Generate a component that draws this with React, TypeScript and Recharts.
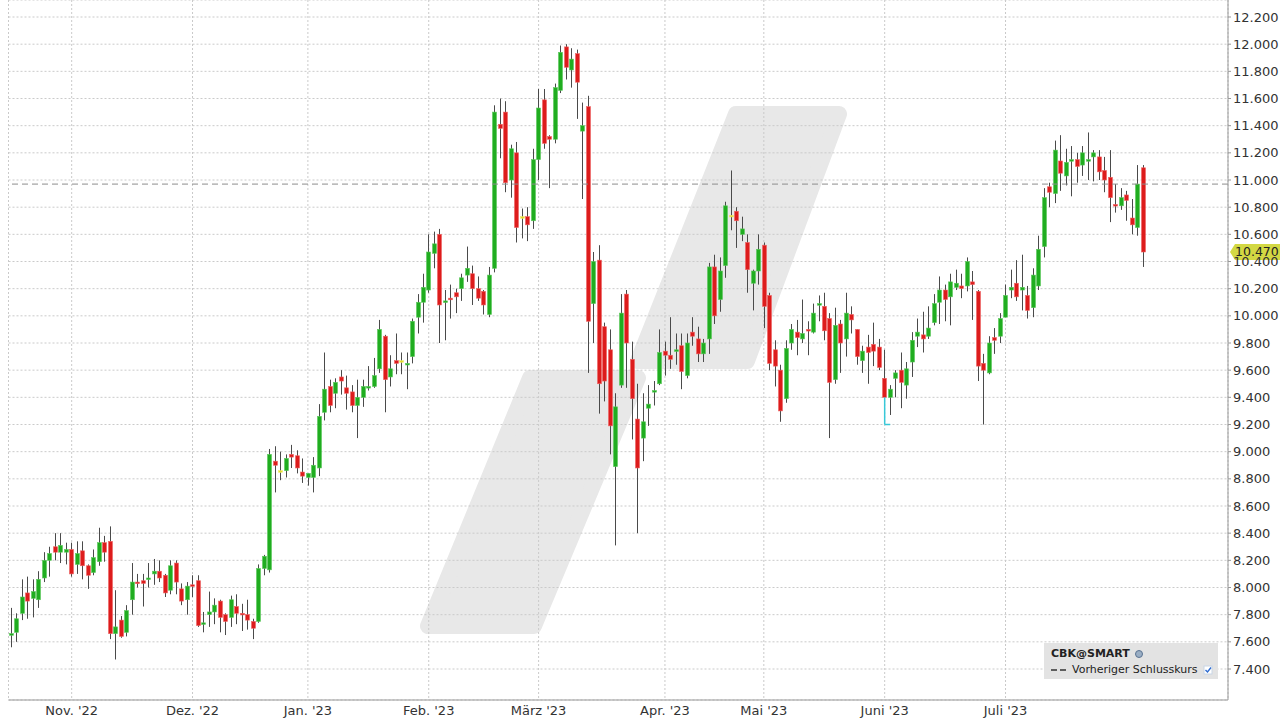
import React from 'react';
import { ComposedChart, Bar, XAxis, YAxis, CartesianGrid, ReferenceLine, Legend } from 'recharts';

// CBK@SMART daily candles, 17.10.2022 - 07.08.2023
const opens = [
  7.65, 7.67, 7.81, 7.96, 7.92, 7.91, 8.07, 8.20, 8.30, 8.26,
  8.26, 8.28, 8.17, 8.27, 8.16, 8.11, 8.19, 8.33, 8.34, 7.66,
  7.76, 7.67, 7.91, 8.04, 8.05, 8.06, 8.10, 8.12, 8.09, 7.98,
  8.18, 7.99, 7.91, 8.02, 8.05, 7.73, 7.80, 7.82, 7.90, 7.80,
  7.78, 7.86, 7.81, 7.80, 7.75, 7.75, 8.14, 8.13, 8.93, 8.86,
  8.86, 8.98, 8.97, 8.85, 8.81, 8.81, 8.88, 9.29, 9.48, 9.43,
  9.55, 9.47, 9.44, 9.34, 9.40, 9.47, 9.48, 9.61, 9.85, 9.55,
  9.67, 9.67, 9.64, 9.70, 9.99, 10.10, 10.19, 10.46, 10.60, 10.10,
  10.13, 10.17, 10.20, 10.30, 10.31, 10.20, 10.18, 10.01, 10.35, 11.41,
  11.50, 11.00, 11.20, 10.73, 10.73, 10.70, 11.15, 11.59, 11.32, 11.30,
  11.66, 11.98, 11.81, 11.93, 11.36, 11.54, 10.09, 10.41, 9.92, 9.75,
  8.89, 9.49, 10.16, 9.68, 9.24, 9.10, 9.32, 9.44, 9.50, 9.74,
  9.71, 9.74, 9.78, 9.56, 9.88, 9.83, 9.72, 9.83, 10.36, 10.12,
  10.37, 10.74, 10.77, 10.60, 10.54, 10.24, 10.33, 10.52, 10.15, 9.75,
  9.60, 9.39, 9.80, 9.88, 9.83, 9.90, 9.88, 10.08, 10.07, 9.98,
  9.53, 9.94, 9.83, 10.01, 9.90, 9.67, 9.77, 9.79, 9.77, 9.54,
  9.40, 9.54, 9.60, 9.49, 9.66, 9.85, 9.86, 9.85, 9.95, 10.10,
  10.19, 10.14, 10.21, 10.22, 10.22, 10.25, 10.18, 9.65, 9.58, 9.84,
  9.85, 9.99, 10.19, 10.24, 10.19, 10.15, 10.06, 10.22, 10.51, 10.95,
  10.90, 11.14, 11.03, 11.14, 11.15, 11.11, 11.14, 11.17, 11.17, 11.07,
  11.02, 10.82, 10.81, 10.89, 10.72, 10.65, 11.09,
];
const highs = [
  7.85, 7.81, 8.06, 8.08, 8.06, 8.12, 8.26, 8.30, 8.40, 8.40,
  8.33, 8.33, 8.34, 8.34, 8.17, 8.28, 8.44, 8.38, 8.45, 7.98,
  7.79, 7.87, 8.18, 8.10, 8.10, 8.18, 8.21, 8.20, 8.10, 8.20,
  8.20, 8.03, 8.04, 8.09, 8.09, 7.82, 7.97, 7.92, 7.91, 7.81,
  7.94, 7.95, 7.88, 7.91, 7.77, 8.17, 8.24, 9.02, 9.04, 9.00,
  8.98, 9.05, 9.01, 8.95, 8.84, 8.96, 9.35, 9.73, 9.53, 9.54,
  9.60, 9.56, 9.49, 9.53, 9.53, 9.63, 9.69, 9.97, 9.86, 9.71,
  9.87, 9.73, 9.73, 9.98, 10.16, 10.31, 10.60, 10.62, 10.64, 10.19,
  10.23, 10.20, 10.31, 10.51, 10.37, 10.29, 10.19, 10.36, 11.55, 11.60,
  11.58, 11.26, 11.28, 10.79, 10.80, 11.23, 11.67, 11.67, 11.33, 11.71,
  11.99, 12.00, 11.97, 11.96, 11.57, 11.62, 10.47, 10.52, 9.95, 9.90,
  9.43, 10.16, 10.19, 9.81, 9.50, 9.43, 9.49, 9.52, 9.90, 9.81,
  9.99, 9.87, 9.87, 9.87, 9.99, 9.92, 9.83, 10.39, 10.45, 10.43,
  10.84, 11.07, 10.80, 10.73, 10.60, 10.34, 10.60, 10.54, 10.17, 9.82,
  9.64, 9.82, 9.94, 9.97, 10.12, 9.96, 10.09, 10.15, 10.17, 10.02,
  10.06, 9.97, 10.17, 10.07, 9.90, 9.78, 9.86, 9.95, 9.83, 9.75,
  9.49, 9.60, 9.73, 9.66, 9.88, 9.98, 10.03, 10.07, 10.16, 10.29,
  10.23, 10.31, 10.34, 10.31, 10.43, 10.33, 10.19, 9.72, 9.85, 9.91,
  10.02, 10.23, 10.34, 10.41, 10.45, 10.22, 10.35, 10.59, 10.94, 10.98,
  11.29, 11.33, 11.23, 11.25, 11.20, 11.25, 11.35, 11.22, 11.22, 11.17,
  11.22, 10.97, 10.94, 10.92, 10.86, 11.11, 11.11,
];
const lows = [
  7.56, 7.60, 7.76, 7.77, 7.78, 7.85, 8.04, 8.08, 8.20, 8.18,
  8.17, 8.08, 8.10, 8.06, 7.99, 8.09, 8.16, 8.19, 7.62, 7.47,
  7.63, 7.64, 7.80, 8.00, 7.86, 8.00, 8.02, 8.04, 7.93, 7.95,
  7.95, 7.87, 7.80, 7.93, 7.71, 7.67, 7.71, 7.73, 7.67, 7.65,
  7.71, 7.73, 7.68, 7.69, 7.62, 7.74, 8.09, 8.11, 8.70, 8.79,
  8.81, 8.88, 8.84, 8.77, 8.75, 8.70, 8.82, 9.23, 9.29, 9.32,
  9.42, 9.31, 9.29, 9.10, 9.33, 9.45, 9.47, 9.58, 9.29, 9.48,
  9.57, 9.57, 9.46, 9.65, 9.87, 9.95, 10.17, 10.35, 9.80, 9.82,
  9.98, 10.02, 10.11, 10.25, 10.08, 10.11, 10.01, 9.99, 10.32, 11.16,
  10.91, 10.87, 10.54, 10.57, 10.55, 10.64, 11.00, 11.23, 10.94, 11.27,
  11.64, 11.74, 11.68, 11.45, 10.86, 9.58, 9.80, 9.28, 9.37, 8.98,
  8.31, 9.47, 9.47, 9.09, 8.40, 8.93, 9.19, 9.34, 9.49, 9.56,
  9.61, 9.64, 9.46, 9.54, 9.78, 9.66, 9.66, 9.72, 9.94, 10.03,
  10.28, 10.63, 10.50, 10.55, 10.17, 10.04, 10.23, 9.91, 9.60, 9.48,
  9.22, 9.36, 9.75, 9.71, 9.80, 9.71, 9.87, 9.96, 9.82, 9.10,
  9.50, 9.58, 9.70, 9.87, 9.64, 9.58, 9.50, 9.63, 9.60, 9.40,
  9.27, 9.40, 9.32, 9.39, 9.55, 9.77, 9.73, 9.83, 9.93, 9.94,
  9.96, 9.93, 10.19, 10.13, 10.18, 9.97, 9.52, 9.20, 9.57, 9.72,
  9.80, 9.99, 10.13, 10.11, 10.04, 9.98, 9.99, 10.19, 10.43, 10.80,
  10.83, 10.92, 10.96, 10.88, 10.98, 11.03, 11.00, 10.99, 11.00, 10.91,
  10.69, 10.76, 10.78, 10.70, 10.60, 10.59, 10.36,
];
const closes = [
  7.66, 7.77, 7.93, 7.90, 7.97, 8.06, 8.20, 8.25, 8.26, 8.31,
  8.28, 8.10, 8.25, 8.16, 8.09, 8.22, 8.33, 8.26, 7.66, 7.71,
  7.64, 7.83, 8.04, 8.03, 8.03, 8.07, 8.12, 8.07, 7.96, 8.16,
  8.04, 7.90, 8.01, 8.01, 7.72, 7.74, 7.82, 7.87, 7.78, 7.75,
  7.91, 7.81, 7.80, 7.76, 7.70, 8.14, 8.23, 8.98, 8.90, 8.86,
  8.95, 8.96, 8.88, 8.82, 8.84, 8.90, 9.26, 9.46, 9.34, 9.51,
  9.52, 9.43, 9.34, 9.40, 9.48, 9.48, 9.56, 9.90, 9.53, 9.61,
  9.65, 9.67, 9.65, 9.96, 10.10, 10.21, 10.47, 10.53, 10.08, 10.11,
  10.12, 10.14, 10.28, 10.35, 10.20, 10.13, 10.08, 10.30, 11.50, 11.38,
  10.98, 11.23, 10.65, 10.73, 10.67, 11.15, 11.53, 11.27, 11.30, 11.68,
  11.94, 11.83, 11.89, 11.72, 11.40, 9.96, 10.40, 9.50, 9.52, 9.19,
  9.33, 10.02, 9.80, 9.39, 8.88, 9.22, 9.35, 9.45, 9.73, 9.71,
  9.68, 9.75, 9.59, 9.80, 9.85, 9.72, 9.80, 10.36, 10.00, 10.33,
  10.81, 10.74, 10.70, 10.64, 10.34, 10.33, 10.49, 10.07, 9.65, 9.63,
  9.30, 9.76, 9.90, 9.84, 9.87, 9.89, 10.02, 10.09, 9.89, 9.51,
  9.93, 9.80, 10.02, 9.97, 9.70, 9.74, 9.73, 9.74, 9.62, 9.40,
  9.46, 9.58, 9.51, 9.61, 9.82, 9.88, 9.83, 9.91, 10.09, 10.19,
  10.12, 10.25, 10.24, 10.20, 10.40, 10.23, 9.63, 9.60, 9.80, 9.82,
  9.98, 10.15, 10.21, 10.14, 10.21, 10.04, 10.30, 10.49, 10.87, 10.91,
  11.22, 11.05, 11.13, 11.15, 11.10, 11.20, 11.15, 11.20, 11.06, 11.00,
  10.87, 10.81, 10.87, 10.85, 10.67, 10.97, 10.47,
];

const monthTickIdx = [11, 33, 54, 76, 96, 119, 137, 159, 181];
const monthLabels = ["Nov. '22", "Dez. '22", "Jan. '23", "Feb. '23", "März '23", "Apr. '23", "Mai '23", "Juni '23", "Juli '23"];
const priceTicks = [7.4, 7.6, 7.8, 8.0, 8.2, 8.4, 8.6, 8.8, 9.0, 9.2, 9.4, 9.6, 9.8, 10.0, 10.2, 10.4, 10.6, 10.8, 11.0, 11.2, 11.4, 11.6, 11.8, 12.0, 12.2];

const symbolName = 'CBK@SMART';
const prevCloseLabel = 'Vorheriger Schlusskurs';
const prevClose = 10.97;
const lastPrice = 10.47;
const dividendIdx = 159;
const dividendRange = [9.4, 9.2];
const slotCount = 222; // trading-day slots on the axis, the rest stays empty

const FONT = '"DejaVu Sans", Verdana, sans-serif';

const data = Array.from({ length: slotCount }, (_, i) =>
  i < opens.length
    ? { i, o: opens[i], h: highs[i], l: lows[i], c: closes[i], range: [lows[i], highs[i]] }
    : { i, range: null }
);

function Candle(props: any) {
  const { x, y, width, height, payload } = props;
  if (!payload || payload.o == null) return <g />;
  const { o, h, l, c } = payload;
  const top = Math.min(y, y + height);
  const bottom = Math.max(y, y + height);
  const ppu = (bottom - top) / (h - l);
  const yOf = (v: number) => top + (h - v) * ppu;
  const cx = Math.round(x + width / 2) + 0.5;
  const bTop = yOf(Math.max(o, c));
  const bBot = yOf(Math.min(o, c));
  const fill = c === o ? '#e6dd2a' : c > o ? '#20ad20' : '#dd1c1c';
  const edge = c === o ? '#f2ec70' : c > o ? '#5cc95c' : '#ee6464';
  return (
    <g>
      <line x1={cx} x2={cx} y1={top} y2={bottom} stroke="#4a4a4a" strokeWidth={1} />
      <rect x={cx - 2} y={bTop} width={4} height={Math.max(bBot - bTop, 1.6)} fill={fill} stroke={edge} strokeWidth={0.6} />
    </g>
  );
}

// yellow last-price tag sitting on the right axis (covers part of the 10.400 label, as in the original)
function PriceTag(props: any) {
  const { viewBox } = props;
  if (!viewBox) return null;
  const x = viewBox.x + viewBox.width;
  const y = viewBox.y;
  return (
    <g>
      <path d={`M${x + 2},${y} L${x + 7},${y - 8} H${x + 52} V${y + 8} H${x + 7} Z`} fill="#d3d843" />
      <text x={x + 7} y={y} dy="0.36em" fontSize={12.5} fontFamily={FONT} fill="#222">
        {lastPrice.toFixed(3)}
      </text>
    </g>
  );
}

function LegendBox() {
  return (
    <div
      style={{
        background: '#e3e3e3',
        width: 174,
        height: 36,
        boxSizing: 'border-box',
        padding: '3px 0 0 7px',
        fontFamily: FONT,
        fontSize: 11,
        lineHeight: '16px',
        color: '#222',
        textAlign: 'left',
      }}
    >
      <div style={{ fontWeight: 'bold', whiteSpace: 'nowrap' }}>
        {symbolName}
        <svg width={12} height={10} style={{ marginLeft: 4, verticalAlign: 'middle' }}>
          <circle cx={5} cy={5} r={3.5} fill="#9aaec4" stroke="#5a7392" strokeWidth={1} />
        </svg>
      </div>
      <div style={{ whiteSpace: 'nowrap' }}>
        <svg width={17} height={8} style={{ marginRight: 4, verticalAlign: 'middle' }}>
          <line x1={0} x2={16} y1={4} y2={4} stroke="#333" strokeWidth={1.5} strokeDasharray="6 3" />
        </svg>
        {prevCloseLabel}
        <svg width={12} height={10} style={{ marginLeft: 5, verticalAlign: 'middle' }}>
          <rect x={1} y={1} width={8} height={8} fill="#ffffff" stroke="#c9d6e6" />
          <path d="M2.5,5 L4.5,7 L8,2.5" stroke="#2e6bd0" strokeWidth={1.4} fill="none" />
        </svg>
      </div>
    </div>
  );
}

export default function App() {
  return (
    <div style={{ position: 'absolute', left: 0, top: 0, width: 1280, height: 720, background: '#fff' }}>
      <svg width={1280} height={720} style={{ position: 'absolute', left: 0, top: 0 }}>
        <g fill="#e8e8e8" stroke="#e8e8e8" strokeWidth={16} strokeLinejoin="round">
          <polygon points="428,626 534,626 638,378 530,378" />
          <polygon points="638,361 747,361 839,114 736,114" />
        </g>
      </svg>
      <div style={{ position: 'absolute', left: 0, top: 0 }}>
        <ComposedChart
          width={1280}
          height={720}
          data={data}
          margin={{ top: 0, right: 0, bottom: 0, left: 8.5 }}
          barCategoryGap={0}
        >
          <CartesianGrid yAxisId="r" stroke="#cacaca" strokeDasharray="2 2" />
          <XAxis
            dataKey="i"
            type="category"
            ticks={monthTickIdx}
            interval={0}
            tickFormatter={(v: number) => monthLabels[monthTickIdx.indexOf(v)] ?? ''}
            height={20}
            tickLine={false}
            tickSize={4}
            tickMargin={2}
            axisLine={{ stroke: '#999' }}
            tick={{ fontSize: 13, fill: '#333', fontFamily: FONT }}
          />
          <YAxis yAxisId="l" orientation="left" width={0} domain={[0, 1]} tick={false} tickLine={false} axisLine={{ stroke: '#c8c8c8' }} />
          <YAxis
            yAxisId="r"
            orientation="right"
            type="number"
            domain={[7.1718, 12.3252]}
            allowDataOverflow
            ticks={priceTicks}
            interval={0}
            tickFormatter={(v: number) => v.toFixed(3)}
            width={52}
            tickSize={3}
            tickMargin={2}
            axisLine={{ stroke: '#999' }}
            tickLine={{ stroke: '#999' }}
            tick={{ fontSize: 13, fill: '#333', fontFamily: FONT }}
          />
          <ReferenceLine yAxisId="r" y={prevClose} stroke="#8c8c8c" strokeDasharray="6 4" />
          <ReferenceLine
            yAxisId="r"
            segment={[{ x: dividendIdx, y: dividendRange[0] }, { x: dividendIdx, y: dividendRange[1] }]}
            stroke="#38c8d8"
            strokeWidth={1.5}
          />
          <ReferenceLine
            yAxisId="r"
            segment={[{ x: dividendIdx, y: dividendRange[1] }, { x: dividendIdx + 1, y: dividendRange[1] }]}
            stroke="#38c8d8"
            strokeWidth={1.5}
          />
          <Bar yAxisId="r" dataKey="range" shape={<Candle />} isAnimationActive={false} />
          <ReferenceLine yAxisId="r" y={lastPrice} stroke="none" label={<PriceTag />} />
          <Legend
            layout="horizontal"
            verticalAlign="middle"
            align="center"
            content={<LegendBox />}
            wrapperStyle={{ left: 1044, top: 643, width: 174, height: 36 }}
          />
        </ComposedChart>
      </div>
    </div>
  );
}
